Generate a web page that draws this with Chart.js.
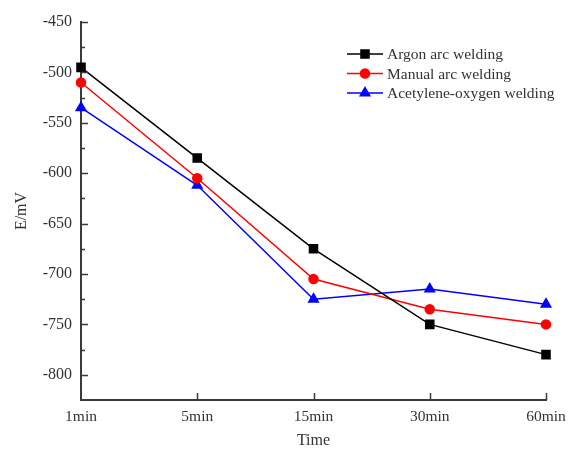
<!DOCTYPE html>
<html>
<head>
<meta charset="utf-8">
<script src="https://cdn.jsdelivr.net/npm/chart.js@4/dist/chart.umd.min.js"></script>
<style>
  html, body { margin: 0; padding: 0; background: #fff; }
  #wrap { width: 569px; height: 450px; }
</style>
</head>
<body>
<div id="wrap"><canvas id="chart"></canvas></div>
<script>
const times = ['1min', '5min', '15min', '30min', '60min'];
const argonArc = [-495, -585, -675, -750, -780];
const manualArc = [-510, -605, -705, -735, -750];
const acetyleneOxygen = [-535, -612, -725, -715, -730];

const Y_MIN = -825;
const Y_MAX = -450;
const FONT = "'Liberation Serif', 'Times New Roman', serif";
const AXIS_COLOR = '#3a3a3a';

// ticks pointing into the plot, like the original software draws them
const inwardTicks = {
  id: 'inwardTicks',
  afterDraw(chart) {
    const { ctx, chartArea, scales } = chart;
    ctx.save();
    ctx.strokeStyle = AXIS_COLOR;
    ctx.lineWidth = 1.5;
    ctx.beginPath();
    scales.y.ticks.forEach((t) => {
      if (t.value === Y_MIN) return;
      const y = Math.round(scales.y.getPixelForValue(t.value)) + 0.5;
      const len = t.value % 50 === 0 ? 7 : 4;
      ctx.moveTo(chartArea.left, y);
      ctx.lineTo(chartArea.left + len, y);
    });
    times.forEach((_, i) => {
      if (i === 0) return;
      const x = Math.round(scales.x.getPixelForValue(i)) + 0.5;
      ctx.moveTo(x, chartArea.bottom);
      ctx.lineTo(x, chartArea.bottom - 7);
    });
    ctx.stroke();
    ctx.restore();
  },
};

// legend with a line through the marker
const lineLegend = {
  id: 'lineLegend',
  afterDraw(chart) {
    const { ctx, chartArea } = chart;
    const x0 = chartArea.left + 266;
    const y0 = chartArea.top + 32;
    ctx.save();
    ctx.font = '15.5px ' + FONT;
    ctx.textBaseline = 'middle';
    chart.data.datasets.forEach((ds, i) => {
      const y = y0 + i * 19.5;
      ctx.strokeStyle = ds.borderColor;
      ctx.fillStyle = ds.backgroundColor;
      ctx.lineWidth = 1.5;
      ctx.beginPath();
      ctx.moveTo(x0, y);
      ctx.lineTo(x0 + 36, y);
      ctx.stroke();
      Chart.helpers.drawPoint(ctx, {
        pointStyle: ds.pointStyle,
        radius: ds.pointRadius,
        rotation: 0,
        borderWidth: 1,
      }, x0 + 18, y);
      ctx.fillStyle = '#333';
      ctx.fillText(ds.label, x0 + 40, y + 1);
    });
    ctx.restore();
  },
};

const makeSeries = (label, data, color, pointStyle, pointRadius) => ({
  label,
  data,
  borderColor: color,
  backgroundColor: color,
  pointBackgroundColor: color,
  pointBorderColor: color,
  borderWidth: 1.5,
  pointStyle,
  pointRadius,
  pointHoverRadius: pointRadius,
  tension: 0,
  clip: false,
});

new Chart(document.getElementById('chart'), {
  type: 'line',
  data: {
    labels: times,
    datasets: [
      makeSeries('Argon arc welding', argonArc, '#000000', 'rect', 5.7),
      makeSeries('Manual arc welding', manualArc, '#ff0000', 'circle', 4.5),
      makeSeries('Acetylene-oxygen welding', acetyleneOxygen, '#0000ff', 'triangle', 5.5),
    ],
  },
  options: {
    responsive: true,
    maintainAspectRatio: false,
    animation: false,
    layout: {
      padding: { top: 22, right: 23, left: 0, bottom: 0 },
    },
    plugins: {
      legend: { display: false },
      tooltip: { enabled: false },
    },
    scales: {
      x: {
        offset: false,
        afterFit(scale) {
          scale.height = 50;
          scale.paddingLeft = 0;
          scale.paddingRight = 0;
        },
        grid: { display: true, drawOnChartArea: false, drawTicks: false },
        border: { display: true, color: AXIS_COLOR, width: 2 },
        ticks: {
          padding: 8,
          color: '#333',
          font: { family: FONT, size: 15.5 },
        },
        title: {
          display: true,
          text: 'Time',
          color: '#333',
          font: { family: FONT, size: 16 },
          padding: { top: 0, bottom: 0 },
        },
      },
      y: {
        min: Y_MIN,
        max: Y_MAX,
        afterFit(scale) { scale.width = 81; },
        grid: { display: true, drawOnChartArea: false, drawTicks: false },
        border: { display: true, color: AXIS_COLOR, width: 2 },
        ticks: {
          stepSize: 25,
          autoSkip: false,
          padding: 9,
          color: '#333',
          font: { family: FONT, size: 16 },
          callback: (v) => (v % 50 === 0 ? v : ''),
        },
        title: {
          display: true,
          text: 'E/mV',
          color: '#333',
          font: { family: FONT, size: 16 },
          padding: { top: 12, bottom: 0 },
        },
      },
    },
  },
  plugins: [inwardTicks, lineLegend],
});
</script>
</body>
</html>
